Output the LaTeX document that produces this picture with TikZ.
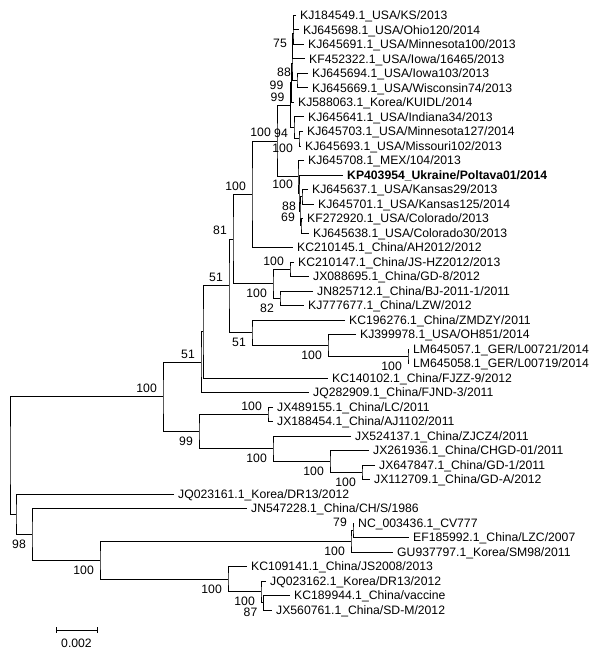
\documentclass[tikz,border=0pt]{standalone}
\usepackage{fontspec}
\setmainfont{Liberation Sans}
\usepackage{tikz}
\usetikzlibrary{calc}

\begin{document}
\begin{tikzpicture}[
    x=1pt, y=-1pt,
    font=\fontsize{12.2}{14}\selectfont,
    branch/.style={line width=1pt, draw=black},
    tip/.style={anchor=west, inner xsep=4pt, inner ysep=0pt, text height=8.7pt, text depth=0pt},
    bsa/.style={anchor=south east, inner sep=0pt, text height=8.7pt, text depth=0pt, xshift=-6pt, yshift=4pt},
    bsb/.style={anchor=north east, inner sep=0pt, text height=8.7pt, text depth=0pt, xshift=-6pt, yshift=-5pt},
    bsl/.style={anchor=east, inner sep=0pt, text height=8.7pt, text depth=0pt, xshift=-6pt}
  ]
    \useasboundingbox (0,0) rectangle (600,650);

    % tips
    \node[tip] (t1) at (296,15.5) {KJ184549.1\_USA/KS/2013};
    \node[tip] (t2) at (299,30) {KJ645698.1\_USA/Ohio120/2014};
    \node[tip] (t3) at (304,44.5) {KJ645691.1\_USA/Minnesota100/2013};
    \node[tip] (t4) at (305,59) {KF452322.1\_USA/Iowa/16465/2013};
    \node[tip] (t5) at (308,73.5) {KJ645694.1\_USA/Iowa103/2013};
    \node[tip] (t6) at (308,88) {KJ645669.1\_USA/Wisconsin74/2013};
    \node[tip] (t7) at (294,102.5) {KJ588063.1\_Korea/KUIDL/2014};
    \node[tip] (t8) at (304,117) {KJ645641.1\_USA/Indiana34/2013};
    \node[tip] (t9) at (303,131.5) {KJ645703.1\_USA/Minnesota127/2014};
    \node[tip] (t10) at (301,146) {KJ645693.1\_USA/Missouri102/2013};
    \node[tip] (t11) at (304,160.5) {KJ645708.1\_MEX/104/2013};
    \node[tip,font=\fontsize{12.2}{14}\selectfont\bfseries] (t12) at (343,175) {KP403954\_Ukraine/Poltava01/2014};
    \node[tip] (t13) at (308,189.5) {KJ645637.1\_USA/Kansas29/2013};
    \node[tip] (t14) at (314,204) {KJ645701.1\_USA/Kansas125/2014};
    \node[tip] (t15) at (303,218.5) {KF272920.1\_USA/Colorado/2013};
    \node[tip] (t16) at (309,233) {KJ645638.1\_USA/Colorado30/2013};
    \node[tip] (t17) at (293,247.5) {KC210145.1\_China/AH2012/2012};
    \node[tip] (t18) at (294,262) {KC210147.1\_China/JS-HZ2012/2013};
    \node[tip] (t19) at (309,276.5) {JX088695.1\_China/GD-8/2012};
    \node[tip] (t20) at (313,291) {JN825712.1\_China/BJ-2011-1/2011};
    \node[tip] (t21) at (304,305.5) {KJ777677.1\_China/LZW/2012};
    \node[tip] (t22) at (345,320) {KC196276.1\_China/ZMDZY/2011};
    \node[tip] (t23) at (356,334.5) {KJ399978.1\_USA/OH851/2014};
    \node[tip] (t24) at (409,349) {LM645057.1\_GER/L00721/2014};
    \node[tip] (t25) at (409,363.5) {LM645058.1\_GER/L00719/2014};
    \node[tip] (t26) at (328,378) {KC140102.1\_China/FJZZ-9/2012};
    \node[tip] (t27) at (309,392.5) {JQ282909.1\_China/FJND-3/2011};
    \node[tip] (t28) at (273,407) {JX489155.1\_China/LC/2011};
    \node[tip] (t29) at (273,421.5) {JX188454.1\_China/AJ1102/2011};
    \node[tip] (t30) at (351,436) {JX524137.1\_China/ZJCZ4/2011};
    \node[tip] (t31) at (369,450.5) {JX261936.1\_China/CHGD-01/2011};
    \node[tip] (t32) at (375,465) {JX647847.1\_China/GD-1/2011};
    \node[tip] (t33) at (370,479.5) {JX112709.1\_China/GD-A/2012};
    \node[tip] (t34) at (174,494) {JQ023161.1\_Korea/DR13/2012};
    \node[tip] (t35) at (247,508.5) {JN547228.1\_China/CH/S/1986};
    \node[tip] (t36) at (354,523) {NC\_003436.1\_CV777};
    \node[tip] (t37) at (409,537.5) {EF185992.1\_China/LZC/2007};
    \node[tip] (t38) at (393,552) {GU937797.1\_Korea/SM98/2011};
    \node[tip] (t39) at (247,566.5) {KC109141.1\_China/JS2008/2013};
    \node[tip] (t40) at (266,581) {JQ023162.1\_Korea/DR13/2012};
    \node[tip] (t41) at (290,595.5) {KC189944.1\_China/vaccine};
    \node[tip] (t42) at (272,610) {JX560761.1\_China/SD-M/2012};

    % internal nodes
    \coordinate (v1) at (293.5,22.75);
    \coordinate (v2) at (293,33.6);
    \coordinate (v3) at (292.5,46.3);
    \coordinate (p56) at (297,80.75);
    \coordinate (v4) at (292,63.5);
    \coordinate (vtop) at (291.5,83);
    \coordinate (p910) at (299,138.75);
    \coordinate (n94) at (294,127.9);
    \coordinate (vv) at (290.5,105.4);
    \coordinate (k88) at (302,196.75);
    \coordinate (k69) at (301,225.75);
    \coordinate (kk) at (300,211.25);
    \coordinate (w2) at (299,193.1);
    \coordinate (ww) at (298,176.8);
    \coordinate (uu) at (277,141.1);
    \coordinate (tt) at (252,194.3);
    \coordinate (hh) at (290,269.25);
    \coordinate (ii) at (280,298.25);
    \coordinate (gg) at (273,283.75);
    \coordinate (n81) at (233,239);
    \coordinate (ff) at (408,356.25);
    \coordinate (ee) at (328,345.4);
    \coordinate (dd) at (252,332.7);
    \coordinate (cc) at (229,285.9);
    \coordinate (bb) at (203,331.9);
    \coordinate (aa) at (201,362.2);
    \coordinate (q28) at (268,414.25);
    \coordinate (q32) at (362,472.25);
    \coordinate (q31) at (330,461.4);
    \coordinate (q30) at (273,448.7);
    \coordinate (n99) at (199,431.5);
    \coordinate (pp) at (163,396.8);
    \coordinate (k79) at (353,530.25);
    \coordinate (cv) at (351,541.1);
    \coordinate (yy) at (263.5,602.75);
    \coordinate (xx) at (261,591.9);
    \coordinate (ll) at (228,579.2);
    \coordinate (s100) at (100,560.2);
    \coordinate (s98) at (32,534.3);
    \coordinate (qq) at (16,514.2);
    \coordinate (root) at (10,455.5);

    % branches
    \draw[branch] (t1) -| (v1) |- (t2);
    \draw[branch] (v1) -| (v2) |- (t3);
    \draw[branch] (v2) -| (v3) |- (t4);
    \draw[branch] (t5) -| (p56) |- (t6);
    \draw[branch] (v3) -| (v4) |- (p56);
    \draw[branch] (v4) -| (vtop) |- (t7);
    \draw[branch] (t9) -| (p910) |- (t10);
    \draw[branch] (t8) -| (n94) |- (p910);
    \draw[branch] (vtop) -| (vv) |- (n94);
    \draw[branch] (t13) -| (k88) |- (t14);
    \draw[branch] (t15) -| (k69) |- (t16);
    \draw[branch] (k88) -| (kk) |- (k69);
    \draw[branch] (t12) -| (w2) |- (kk);
    \draw[branch] (t11) -| (ww) |- (w2);
    \draw[branch] (vv) -| (uu) |- (ww);
    \draw[branch] (uu) -| (tt) |- (t17);
    \draw[branch] (t18) -| (hh) |- (t19);
    \draw[branch] (t20) -| (ii) |- (t21);
    \draw[branch] (hh) -| (gg) |- (ii);
    \draw[branch] (tt) -| (n81) |- (gg);
    \draw[branch] (t24) -| (ff) |- (t25);
    \draw[branch] (t23) -| (ee) |- (ff);
    \draw[branch] (t22) -| (dd) |- (ee);
    \draw[branch] (n81) -| (cc) |- (dd);
    \draw[branch] (cc) -| (bb) |- (t26);
    \draw[branch] (bb) -| (aa) |- (t27);
    \draw[branch] (t28) -| (q28) |- (t29);
    \draw[branch] (t32) -| (q32) |- (t33);
    \draw[branch] (t31) -| (q31) |- (q32);
    \draw[branch] (t30) -| (q30) |- (q31);
    \draw[branch] (q28) -| (n99) |- (q30);
    \draw[branch] (aa) -| (pp) |- (n99);
    \draw[branch] (t36) -| (k79) |- (t37);
    \draw[branch] (k79) -| (cv) |- (t38);
    \draw[branch] (t41) -| (yy) |- (t42);
    \draw[branch] (t40) -| (xx) |- (yy);
    \draw[branch] (t39) -| (ll) |- (xx);
    \draw[branch] (cv) -| (s100) |- (ll);
    \draw[branch] (t35) -| (s98) |- (s100);
    \draw[branch] (t34) -| (qq) |- (s98);
    \draw[branch] (pp) -| (root) |- (qq);

    % bootstrap values
    \node[bsb] (bs-v2) at (v2) {75};
    \node[bsa] (bs-p56) at (p56) {88};
    \node[bsl,xshift=-2pt,yshift=-2pt] (bs-vtop) at (vtop) {99};
    \node[bsa] (bs-vv) at (vv) {99};
    \node[bsa] (bs-uu) at (uu) {100};
    \node[bsl,yshift=-5pt] (bs-n94) at (n94) {94};
    \node[bsb] (bs-p910) at (p910) {100};
    \node[bsa] (bs-w2) at (w2) {100};
    \node[bsb] (bs-k88) at (k88) {88};
    \node[bsa] (bs-k69) at (k69) {69};
    \node[bsa] (bs-tt) at (tt) {100};
    \node[bsa] (bs-n81) at (n81) {81};
    \node[bsa] (bs-hh) at (hh) {100};
    \node[bsb] (bs-gg) at (gg) {100};
    \node[bsb] (bs-ii) at (ii) {82};
    \node[bsa] (bs-cc) at (cc) {51};
    \node[bsb] (bs-dd) at (dd) {51};
    \node[bsb] (bs-ee) at (ee) {100};
    \node[bsb] (bs-ff) at (ff) {100};
    \node[bsa] (bs-aa) at (aa) {51};
    \node[bsa] (bs-pp) at (pp) {100};
    \node[bsa] (bs-q28) at (q28) {100};
    \node[bsb] (bs-n99) at (n99) {99};
    \node[bsb] (bs-q30) at (q30) {100};
    \node[bsb] (bs-q31) at (q31) {100};
    \node[bsb] (bs-q32) at (q32) {100};
    \node[bsa] (bs-k79) at (k79) {79};
    \node[bsb] (bs-cv) at (cv) {100};
    \node[bsb] (bs-s98) at (s98) {98};
    \node[bsb] (bs-s100) at (s100) {100};
    \node[bsb] (bs-ll) at (ll) {100};
    \node[bsb] (bs-xx) at (xx) {100};
    \node[bsb] (bs-yy) at (yy) {87};

    % scale bar
    \coordinate (sb1) at (56,630);
    \coordinate (sb2) at (97,630);
    \draw[branch] (sb1) -- (sb2);
    \draw[branch] ($(sb1)+(0,-3)$) -- ($(sb1)+(0,3)$);
    \draw[branch] ($(sb2)+(0,-3)$) -- ($(sb2)+(0,3)$);
    \node (sbl) at (76.5,643) {0.002};
  \end{tikzpicture}
\end{document}
